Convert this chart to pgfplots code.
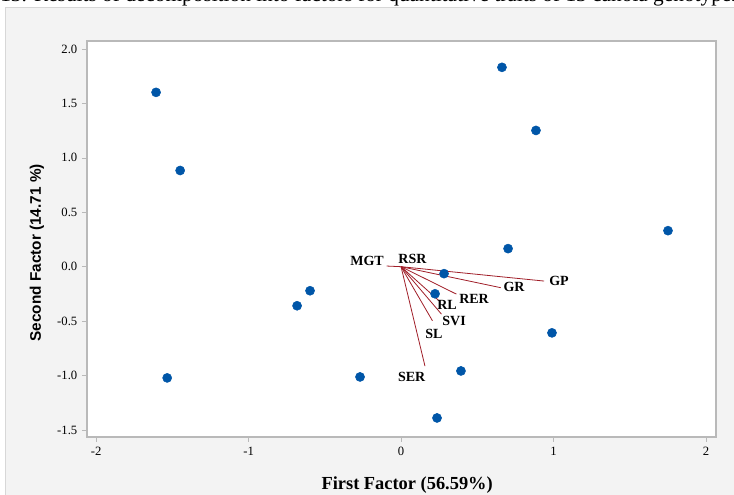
\documentclass[border=0pt]{standalone}
\usepackage{fontspec}
\setmainfont{Liberation Serif}
\setsansfont{Liberation Sans}
\usepackage{pgfplots}
\pgfplotsset{compat=1.18}
\definecolor{ptblue}{RGB}{0,86,168}
\definecolor{vecred}{RGB}{160,30,40}
\definecolor{bggray}{RGB}{243,243,243}
\definecolor{bdgray}{RGB}{215,215,215}
\definecolor{axgray}{RGB}{185,185,185}
\begin{document}
\begin{tikzpicture}
\clip (0pt,0pt) rectangle (550.5pt,371.25pt);
\begin{scope}[x=0.75pt,y=0.75pt]
\fill[bggray] (5,0) rectangle (734,488);
\draw[bdgray] (5,0) -- (5,488) -- (734,488);
\node[anchor=base west, font=\fontsize{16}{19}\selectfont, inner sep=0] at (0,493.3) {13. Results of decomposition into factors for quantitative traits of 13 canola genotypes};
\end{scope}
\begin{axis}[
  at={(65.25pt,43.5pt)}, anchor=south west,
  scale only axis, width=471.75pt, height=297pt,
  xmin=-2.06, xmax=2.066, ymin=-1.565, ymax=2.074,
  axis background/.style={fill=white},
  axis line style={axgray, line width=0.9pt},
  tick style={axgray, line width=0.5pt},
  tick align=outside, major tick length=3.75pt,
  xtick pos=lower, ytick pos=left,
  xtick={-2,-1,0,1,2}, xticklabels={-2,-1,0,1,2},
  ytick={-1.5,-1,-0.5,0,0.5,1,1.5,2},
  yticklabels={-1.5,-1.0,-0.5,0.0,0.5,1.0,1.5,2.0},
  ticklabel style={font=\fontsize{9.5}{11}\selectfont, text=black},
  xlabel={First Factor (56.59\%)},
  ylabel={Second Factor (14.71 \%)},
  xlabel style={font=\fontsize{13.8}{16}\selectfont\bfseries, at={(axis description cs:0.509,-0.121)}, anchor=center},
  ylabel style={font=\sffamily\fontsize{11.5}{13}\selectfont\bfseries, at={(axis description cs:-0.0795,0.465)}, anchor=center},
  clip=false,
]
\addplot[only marks, mark=*, mark size=3.4pt, color=ptblue, mark options={draw=ptblue, fill=ptblue}] coordinates {
(-1.607,1.602) (-1.449,0.884) (-1.534,-1.022) (-0.682,-0.359) (-0.597,-0.221)
(-0.269,-1.013) (0.282,-0.064) (0.223,-0.249) (0.393,-0.958) (0.236,-1.390)
(0.662,1.832) (0.885,1.252) (0.702,0.166) (0.990,-0.608) (1.751,0.331)
};
\addplot[vecred, line width=0.6pt] coordinates {(0,0) (0.938,-0.132)};
\addplot[vecred, line width=0.6pt] coordinates {(0,0) (0.654,-0.193)};
\addplot[vecred, line width=0.6pt] coordinates {(0,0) (0.363,-0.252)};
\addplot[vecred, line width=0.6pt] coordinates {(0,0) (0.249,-0.313)};
\addplot[vecred, line width=0.6pt] coordinates {(0,0) (0.265,-0.436)};
\addplot[vecred, line width=0.6pt] coordinates {(0,0) (0.206,-0.497)};
\addplot[vecred, line width=0.6pt] coordinates {(0,0) (0.157,-0.914)};
\addplot[vecred, line width=0.6pt] coordinates {(0,0) (-0.094,0.006)};
\begin{scope}[every node/.style={font=\fontsize{10.5}{12}\selectfont\bfseries, inner sep=0, anchor=center}]
\node at (axis cs:-0.223,0.055) {MGT};
\node at (axis cs:0.075,0.07) {RSR};
\node at (axis cs:1.036,-0.132) {GP};
\node at (axis cs:0.741,-0.184) {GR};
\node at (axis cs:0.479,-0.292) {RER};
\node at (axis cs:0.302,-0.350) {RL};
\node at (axis cs:0.348,-0.497) {SVI};
\node at (axis cs:0.216,-0.614) {SL};
\node at (axis cs:0.070,-1.013) {SER};
\end{scope}
\end{axis}
\end{tikzpicture}
\end{document}
